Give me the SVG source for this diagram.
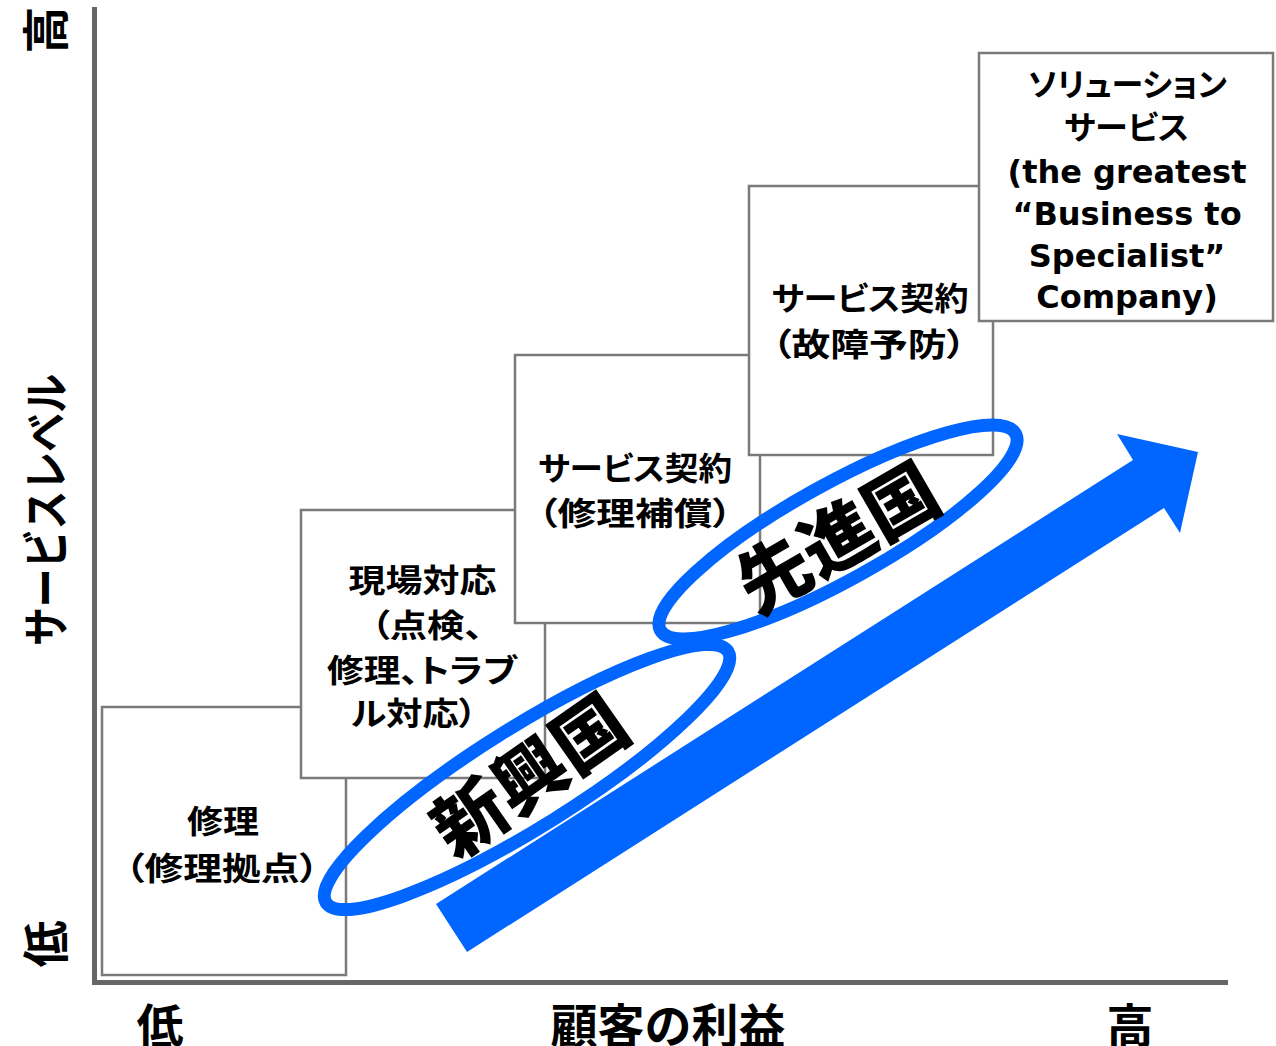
<svg xmlns="http://www.w3.org/2000/svg" width="1276" height="1046" viewBox="0 0 1276 1046">
<style>
.axis{stroke:#666;stroke-width:5;fill:none}
.box{fill:#fff;stroke:#7a7a7a;stroke-width:2.5}
.jp{font-family:"Noto Sans CJK JP","Noto Sans",sans-serif;font-weight:bold;font-size:32px;text-anchor:middle;fill:#000;font-feature-settings:"palt" 1}
.en{font-family:"DejaVu Sans","Noto Sans CJK JP",sans-serif;font-weight:bold;font-size:32px;text-anchor:middle;fill:#000}
.lab{font-family:"Noto Sans CJK JP",sans-serif;font-weight:bold;font-size:47px;text-anchor:middle;fill:#000}
.big{font-family:"Noto Sans CJK JP",sans-serif;font-weight:900;font-size:73px;text-anchor:middle;fill:#000}
.ell{fill:none;stroke:#0066ff;stroke-width:13}
</style>
<rect width="1276" height="1046" fill="#fff"/>
<g id="axes">
<line class="axis" x1="94.5" y1="7" x2="94.5" y2="985"/>
<line class="axis" x1="92" y1="982.5" x2="1228" y2="982.5"/>
</g>
<g id="axis-labels">
<text class="lab" transform="translate(45,30) rotate(-90)" y="18">高</text>
<text class="lab" transform="translate(45,510) rotate(-90)" y="18" textLength="272" lengthAdjust="spacingAndGlyphs">サービスレベル</text>
<text class="lab" transform="translate(45,944) rotate(-90)" y="18">低</text>
<text class="lab" x="160" y="1043">低</text>
<text class="lab" x="668" y="1043">顧客の利益</text>
<text class="lab" x="1130" y="1043">高</text>
</g>
<g id="box1">
<rect class="box" x="102" y="707" width="244" height="268"/>
<text class="jp" x="223" y="833" textLength="72" lengthAdjust="spacingAndGlyphs">修理</text>
<text class="jp" x="222" y="880" textLength="194" lengthAdjust="spacingAndGlyphs">（修理拠点）</text>
</g>
<g id="box2">
<rect class="box" x="301" y="510" width="244" height="268"/>
<text class="jp" x="422.5" y="592" textLength="148" lengthAdjust="spacingAndGlyphs">現場対応</text>
<text class="jp" x="427" y="637" textLength="112" lengthAdjust="spacingAndGlyphs">（点検、</text>
<text class="jp" x="422" y="682" textLength="190" lengthAdjust="spacingAndGlyphs">修理、トラブ</text>
<text class="jp" x="414" y="725" textLength="126" lengthAdjust="spacingAndGlyphs">ル対応）</text>
</g>
<g id="box3">
<rect class="box" x="515" y="355" width="245" height="268"/>
<text class="jp" x="635" y="480" textLength="194" lengthAdjust="spacingAndGlyphs">サービス契約</text>
<text class="jp" x="635" y="525" textLength="194" lengthAdjust="spacingAndGlyphs">（修理補償）</text>
</g>
<g id="box4">
<rect class="box" x="749" y="186" width="244" height="269"/>
<text class="jp" x="870" y="310" textLength="197" lengthAdjust="spacingAndGlyphs">サービス契約</text>
<text class="jp" x="869" y="356" textLength="194" lengthAdjust="spacingAndGlyphs">（故障予防）</text>
</g>
<g id="box5">
<rect class="box" x="979" y="53" width="294" height="268"/>
<text class="jp" x="1127.5" y="96" textLength="199" lengthAdjust="spacingAndGlyphs">ソリューション</text>
<text class="jp" x="1126.5" y="139" textLength="125" lengthAdjust="spacingAndGlyphs">サービス</text>
<text class="en" x="1127" y="183">(the greatest</text>
<text class="en" x="1127" y="225">“Business to</text>
<text class="en" x="1127" y="267">Specialist”</text>
<text class="en" x="1127" y="308">Company)</text>
</g>
<g id="connectors">
<polygon fill="#0066ff" points="436,904 1133,460 1117,434 1198,452 1180,533 1164,508 467,952"/>
</g>
<g id="emerging">
<ellipse class="ell" cx="527" cy="777" rx="237" ry="50" transform="rotate(-32 527 777)"/>
<text class="big" transform="translate(529,775) rotate(-35)" y="28">新興国</text>
</g>
<g id="advanced">
<ellipse class="ell" cx="838" cy="532" rx="203" ry="48" transform="rotate(-29 838 532)"/>
<text class="big" transform="translate(837,537) rotate(-30)" y="28">先進国</text>
</g>
</svg>
